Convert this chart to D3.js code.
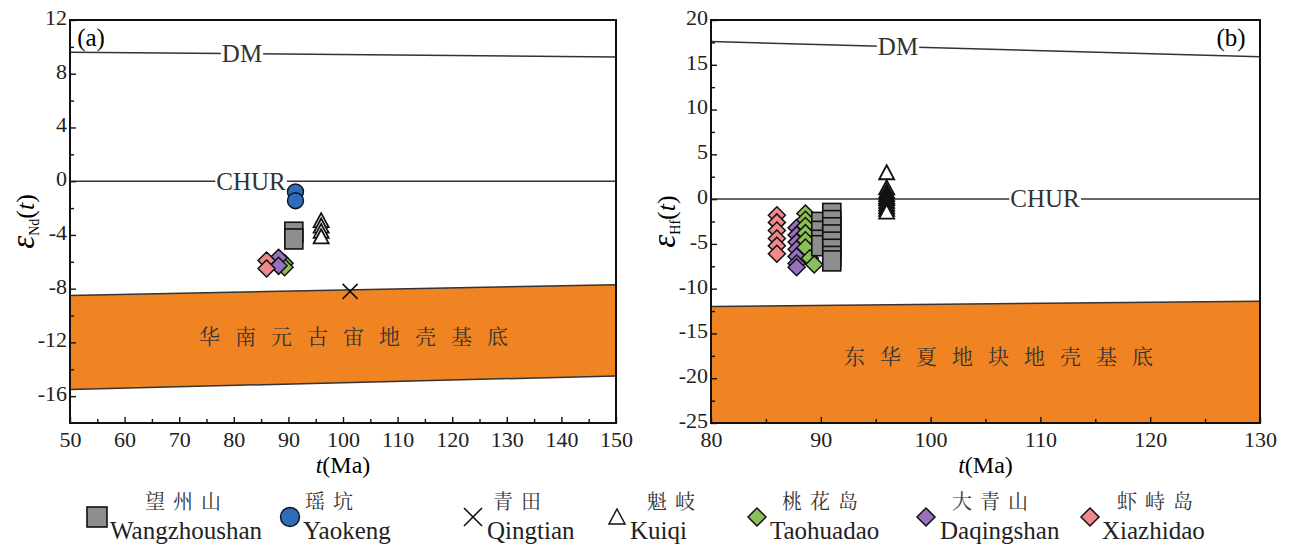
<!DOCTYPE html>
<html>
<head>
<meta charset="utf-8">
<script src="https://cdn.jsdelivr.net/npm/d3@7"></script>
<style>
body { margin: 0; background: #fff; }
</style>
</head>
<body>
<svg id="chart" width="1293" height="545" font-family="Liberation Serif"></svg>
<script>
"use strict";

const SERIF = "Liberation Serif";
const CJK = "Noto Serif CJK SC";

// ---- data ----
const tTicksA = [50, 60, 70, 80, 90, 100, 110, 120, 130, 140, 150];
const ndTicks = [-16, -12, -8, -4, 0, 4, 8, 12];
const tTicksB = [80, 90, 100, 110, 120, 130];
const hfTicks = [-25, -20, -15, -10, -5, 0, 5, 10, 15, 20];

// reference lines [t, value]
const ndDM = [[50, 9.6], [150, 9.25]];
const ndCHUR = [[50, 0], [150, 0]];
const ndBaseTop = [[50, -8.5], [150, -7.7]];
const ndBaseBottom = [[50, -15.5], [150, -14.5]];
const hfDM = [[80, 17.6], [130, 15.9]];
const hfCHUR = [[80, 0], [130, 0]];
const hfBaseTop = [[80, -12.0], [130, -11.4]];
const hfBaseBottom = [[80, -25], [130, -25]];

// samples (a) eNd(t)
const ndWangzhoushan = [[91, -3.8], [91, -4.3]];
const ndYaokeng = [[91.3, -0.8], [91.3, -1.45]];
const ndQingtian = [[101.3, -8.2]];
const ndKuiqi = [[96, -2.9], [96, -3.3], [96, -3.7], [96, -4.1]];
const ndTaohuadao = [[89.3, -6.1], [89.3, -6.4]];
const ndDaqingshan = [[88.2, -5.7], [88.2, -6.3]];
const ndXiazhidao = [[86, -5.9], [86, -6.5]];

// samples (b) eHf(t)
const hfWangzhoushan = [[90, -2.6], [90, -3.6], [90, -4.6], [90, -5.2],
  [91, -1.6], [91, -2.4], [91, -3.2], [91, -4.0], [91, -4.8], [91, -5.6], [91, -6.4], [91, -6.9]];
const hfKuiqi = [[96, 3.0], [96, 1.3], [96, 0.9], [96, 0.6], [96, 0.3], [96, 0.1],
  [96, -0.2], [96, -0.5], [96, -0.8], [96, -1.1], [96, -1.4]];
const hfTaohuadao = [[88.6, -1.6], [88.6, -2.3], [88.6, -3.0], [88.6, -3.8], [88.6, -4.6],
  [88.6, -5.4], [89.0, -6.6], [89.4, -7.3]];
const hfDaqingshan = [[87.8, -3.2], [87.8, -4.0], [87.8, -4.8], [87.8, -5.6], [87.8, -6.4],
  [87.8, -7.2], [87.8, -7.6]];
const hfXiazhidao = [[86, -1.8], [86, -2.6], [86, -3.5], [86, -4.4], [86, -5.2], [86, -6.1]];

const legendCn = ["望州山", "瑶坑", "青田", "魁岐", "桃花岛", "大青山", "虾峙岛"];
const legendEn = ["Wangzhoushan", "Yaokeng", "Qingtian", "Kuiqi", "Taohuadao", "Daqingshan", "Xiazhidao"];
const legendKeys = ["square", "circle", "cross", "triangle", "green", "purple", "pink"];

const ORANGE = "#f08423";
const COLORS = { square: "#8e8e90", circle: "#2e6cbc", green: "#8cbf58", purple: "#9571c0", pink: "#f0898c" };

const svg = d3.select("#chart");

// ---- symbol drawing ----
function drawSymbol(g, kind, x, y) {
  if (kind == "square") {
    g.append("rect").attr("x", x - 9).attr("y", y - 10)
      .attr("width", 18).attr("height", 20)
      .attr("fill", COLORS.square).attr("stroke", "#111").attr("stroke-width", 1.6);
  } else if (kind == "circle") {
    g.append("circle").attr("cx", x).attr("cy", y).attr("r", 8)
      .attr("fill", COLORS.circle).attr("stroke", "#111").attr("stroke-width", 1.4);
  } else if (kind == "cross") {
    let h = 7.5;
    g.append("path").attr("d", `M${x - h},${y - h}L${x + h},${y + h}M${x - h},${y + h}L${x + h},${y - h}`)
      .attr("stroke", "#111").attr("stroke-width", 1.6).attr("fill", "none");
  } else if (kind == "triangle") {
    let w = 7.5, hh = 7;
    g.append("path").attr("d", `M${x},${y - hh}L${x + w},${y + hh}L${x - w},${y + hh}Z`)
      .attr("fill", "#fff").attr("stroke", "#111").attr("stroke-width", 1.8);
  } else {
    let r = 8.5;
    g.append("path").attr("d", `M${x},${y - r}L${x + r},${y}L${x},${y + r}L${x - r},${y}Z`)
      .attr("fill", COLORS[kind]).attr("stroke", "#111").attr("stroke-width", 1.5);
  }
}

// ---- panel builder ----
function buildPanel(opt) {
  const x = d3.scaleLinear().domain(opt.xDomain).range([opt.left, opt.right]);
  const y = d3.scaleLinear().domain(opt.yDomain).range([opt.bottom, opt.top]);
  const g = svg.append("g");

  const clipId = "clip" + opt.id;
  g.append("clipPath").attr("id", clipId).append("rect")
    .attr("x", opt.left).attr("y", opt.top)
    .attr("width", opt.right - opt.left).attr("height", opt.bottom - opt.top);
  const plot = g.append("g").attr("clip-path", `url(#${clipId})`);

  // basement band
  const line = d3.line().x(d => x(d[0])).y(d => y(d[1]));
  const band = opt.baseTop.concat(opt.baseBottom.slice().reverse());
  plot.append("path").attr("d", line(band) + "Z").attr("fill", ORANGE).attr("stroke", "none");
  [opt.baseTop, opt.baseBottom, opt.dm, opt.chur].forEach(l => {
    plot.append("path").attr("d", line(l)).attr("fill", "none")
      .attr("stroke", "#333").attr("stroke-width", 1.5);
  });

  // line labels with white background
  function lineLabel(txt, tx, ty) {
    const t = g.append("text").attr("x", tx).attr("y", ty).attr("dy", "0.35em")
      .attr("font-family", SERIF)
      .attr("text-anchor", "middle").attr("font-size", 25).attr("fill", "#333").text(txt);
    const bb = t.node().getBBox();
    g.insert("rect", () => t.node()).attr("x", bb.x - 1).attr("y", ty - 3)
      .attr("width", bb.width + 2).attr("height", 6).attr("fill", "#fff");
  }
  lineLabel("DM", opt.dmLabel[0], opt.dmLabel[1]);
  lineLabel("CHUR", opt.churLabel[0], opt.churLabel[1]);

  // basement text
  g.append("text").attr("class", "cn").attr("x", opt.bandText[0]).attr("y", opt.bandText[1])
    .attr("dy", "0.35em").attr("text-anchor", "middle").attr("font-size", 21)
    .attr("letter-spacing", "15px").attr("fill", "#333").text(opt.bandLabel);

  // points
  const pts = g.append("g");
  opt.series.forEach(s => {
    s.data.forEach(d => drawSymbol(pts, s.kind, x(d[0]), y(d[1])));
  });

  // axes (inward ticks)
  const fmt = d => String(d);
  const xAxis = g.append("g").attr("transform", `translate(0,${opt.bottom})`)
    .call(d3.axisBottom(x).tickValues(opt.xTicks).tickSize(-6).tickPadding(8).tickFormat(fmt));
  const xMinor = g.append("g").attr("transform", `translate(0,${opt.bottom})`)
    .call(d3.axisBottom(x).tickValues(opt.xMinor).tickSize(-4).tickFormat(""));
  const yAxis = g.append("g").attr("transform", `translate(${opt.left},0)`)
    .call(d3.axisLeft(y).tickValues(opt.yTicks).tickSize(-6).tickPadding(3).tickFormat(fmt));
  const yMinor = g.append("g").attr("transform", `translate(${opt.left},0)`)
    .call(d3.axisLeft(y).tickValues(opt.yMinor).tickSize(-4).tickFormat(""));
  [xAxis, xMinor, yAxis, yMinor].forEach(a => {
    a.attr("font-family", SERIF).attr("font-size", 22);
    a.select(".domain").remove();
    a.selectAll("line").attr("stroke", "#111").attr("stroke-width", 1.4);
    a.selectAll("text").attr("fill", "#222");
  });
  yAxis.selectAll("text").attr("dy", "0.2em");

  // frame
  g.append("rect").attr("x", opt.left).attr("y", opt.top)
    .attr("width", opt.right - opt.left).attr("height", opt.bottom - opt.top)
    .attr("fill", "none").attr("stroke", "#111").attr("stroke-width", 2);

  // panel tag
  g.append("text").attr("x", opt.tag[0]).attr("y", opt.tag[1]).attr("text-anchor", "middle")
    .attr("font-size", 25).text(opt.tagText);

  // x label
  const xl = g.append("text").attr("x", (opt.left + opt.right) / 2).attr("y", 473)
    .attr("text-anchor", "middle").attr("font-size", 24);
  xl.append("tspan").attr("font-style", "italic").text("t");
  xl.append("tspan").text("(Ma)");

  // y label
  const yl = g.append("text")
    .attr("transform", `translate(${opt.left - 36},${(opt.top + opt.bottom) / 2}) rotate(-90)`)
    .attr("text-anchor", "middle").attr("font-size", 26);
  yl.append("tspan").attr("font-style", "italic").attr("font-size", 33).text("ε");
  yl.append("tspan").attr("font-size", 14).attr("dy", 5).text(opt.sub);
  yl.append("tspan").attr("dy", -5).text("(");
  yl.append("tspan").attr("font-style", "italic").text("t");
  yl.append("tspan").text(")");
}

buildPanel({
  id: "a", left: 70, right: 616, top: 20, bottom: 423,
  xDomain: [50, 150], yDomain: [-18, 12],
  xTicks: tTicksA, xMinor: d3.range(55, 150, 10),
  yTicks: ndTicks, yMinor: d3.range(-18, 12, 2).filter(v => !ndTicks.includes(v) && v != -18),
  dm: ndDM, chur: ndCHUR, baseTop: ndBaseTop, baseBottom: ndBaseBottom,
  dmLabel: [242, 53], churLabel: [251, 181],
  bandText: [361, 337], bandLabel: "华南元古宙地壳基底",
  tag: [91, 46], tagText: "(a)", sub: "Nd",
  series: [
    { kind: "square", data: ndWangzhoushan },
    { kind: "circle", data: ndYaokeng },
    { kind: "cross", data: ndQingtian },
    { kind: "triangle", data: ndKuiqi },
    { kind: "green", data: ndTaohuadao },
    { kind: "purple", data: ndDaqingshan },
    { kind: "pink", data: ndXiazhidao }
  ]
});

buildPanel({
  id: "b", left: 711, right: 1260, top: 20, bottom: 423,
  xDomain: [80, 130], yDomain: [-25, 20],
  xTicks: tTicksB, xMinor: d3.range(85, 130, 10),
  yTicks: hfTicks, yMinor: d3.range(-22.5, 20, 5),
  dm: hfDM, chur: hfCHUR, baseTop: hfBaseTop, baseBottom: hfBaseBottom,
  dmLabel: [898, 46], churLabel: [1045, 198],
  bandText: [1006, 357], bandLabel: "东华夏地块地壳基底",
  tag: [1231, 46], tagText: "(b)", sub: "Hf",
  series: [
    { kind: "pink", data: hfXiazhidao },
    { kind: "purple", data: hfDaqingshan },
    { kind: "green", data: hfTaohuadao },
    { kind: "square", data: hfWangzhoushan },
    { kind: "triangle", data: hfKuiqi }
  ]
});

// ---- legend ----
const legendSymX = [97, 290, 473, 617, 757, 926, 1090];
const legendTextX = [187, 333, 521, 675, 824, 994, 1159];
const legendEnX = [110, 303, 487, 630, 770, 940, 1102];
const lg = svg.append("g");
legendKeys.forEach((k, i) => {
  let sx = legendSymX[i], sy = 517;
  if (k == "square") {
    lg.append("rect").attr("x", sx - 10).attr("y", sy - 10).attr("width", 20).attr("height", 20)
      .attr("fill", COLORS.square).attr("stroke", "#111").attr("stroke-width", 1.6);
  } else if (k == "triangle") {
    lg.append("path").attr("d", `M${sx},${sy - 8}L${sx + 8},${sy + 7}L${sx - 8},${sy + 7}Z`)
      .attr("fill", "#fff").attr("stroke", "#111").attr("stroke-width", 1.5);
  } else if (k == "cross") {
    lg.append("path").attr("d", `M${sx - 9},${sy - 9}L${sx + 9},${sy + 9}M${sx - 9},${sy + 9}L${sx + 9},${sy - 9}`)
      .attr("stroke", "#111").attr("stroke-width", 1.6);
  } else if (k == "circle") {
    lg.append("circle").attr("cx", sx).attr("cy", sy).attr("r", 9.5)
      .attr("fill", COLORS.circle).attr("stroke", "#111").attr("stroke-width", 1.4);
  } else {
    lg.append("path").attr("d", `M${sx},${sy - 9}L${sx + 9},${sy}L${sx},${sy + 9}L${sx - 9},${sy}Z`)
      .attr("fill", COLORS[k]).attr("stroke", "#111").attr("stroke-width", 1.5);
  }
  lg.append("text").attr("class", "cn").attr("x", legendTextX[i]).attr("y", 509)
    .attr("text-anchor", "middle").attr("font-size", 20).attr("letter-spacing", "8px")
    .attr("fill", "#333").text(legendCn[i]);
  lg.append("text").attr("x", legendEnX[i]).attr("y", 539)
    .attr("font-size", 25).attr("fill", "#222").text(legendEn[i]);
});

// fonts set explicitly on every text
svg.selectAll("text").attr("font-family", SERIF);
svg.selectAll("text.cn").attr("font-family", CJK);
</script>
</body>
</html>
